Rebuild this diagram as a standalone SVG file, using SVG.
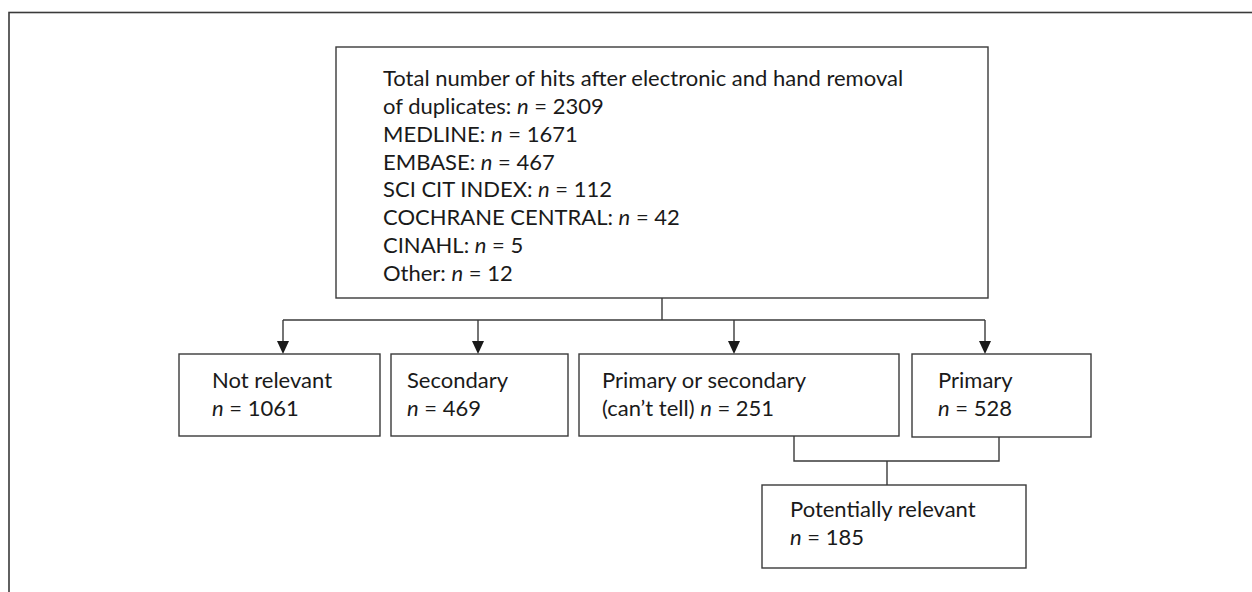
<svg xmlns="http://www.w3.org/2000/svg" width="1252" height="592" viewBox="0 0 1252 592">
  <defs>
    <style>
      .box { fill: #ffffff; stroke: #3a3a3a; stroke-width: 1.4; }
      .frame { fill: none; stroke: #3a3a3a; stroke-width: 1.6; }
      .conn { fill: none; stroke: #3a3a3a; stroke-width: 1.4; }
      text { font-family: Lato, "Open Sans", "Liberation Sans", sans-serif; font-size: 22px; fill: #1a1a1a; }
      .i { font-style: italic; }
    </style>
  </defs>
  <rect width="1252" height="592" fill="#ffffff"/>
  <rect class="frame" x="9" y="12.5" width="1300" height="700"/>

  <g id="connectors">
    <path class="conn" d="M662,298 V320"/>
    <path class="conn" d="M283,320 H985"/>
    <path class="conn" d="M283,320 V341"/>
    <path class="conn" d="M478,320 V341"/>
    <path class="conn" d="M734,320 V341"/>
    <path class="conn" d="M985,320 V341"/>
    <path d="M277,341 L289,341 L283,354 Z" fill="#1a1a1a"/>
    <path d="M472,341 L484,341 L478,354 Z" fill="#1a1a1a"/>
    <path d="M728,341 L740,341 L734,354 Z" fill="#1a1a1a"/>
    <path d="M979,341 L991,341 L985,354 Z" fill="#1a1a1a"/>
    <path class="conn" d="M794,436 V461 H999 V437"/>
    <path class="conn" d="M887,461 V485"/>
  </g>

  <g id="node-total">
    <rect class="box" x="336" y="47" width="652" height="251"/>
    <text x="383" y="86">Total number of hits after electronic and hand removal</text>
    <text x="383" y="114">of duplicates: <tspan class="i">n</tspan> = 2309</text>
    <text x="383" y="142">MEDLINE: <tspan class="i">n</tspan> = 1671</text>
    <text x="383" y="170">EMBASE: <tspan class="i">n</tspan> = 467</text>
    <text x="383" y="197">SCI CIT INDEX: <tspan class="i">n</tspan> = 112</text>
    <text x="383" y="225">COCHRANE CENTRAL: <tspan class="i">n</tspan> = 42</text>
    <text x="383" y="253">CINAHL: <tspan class="i">n</tspan> = 5</text>
    <text x="383" y="281">Other: <tspan class="i">n</tspan> = 12</text>
  </g>

  <g id="node-not-relevant">
    <rect class="box" x="179" y="354" width="201" height="82"/>
    <text x="212" y="388">Not relevant</text>
    <text x="212" y="416"><tspan class="i">n</tspan> = 1061</text>
  </g>

  <g id="node-secondary">
    <rect class="box" x="391" y="354" width="177" height="82"/>
    <text x="407" y="388">Secondary</text>
    <text x="407" y="416"><tspan class="i">n</tspan> = 469</text>
  </g>

  <g id="node-cant-tell">
    <rect class="box" x="579" y="354" width="320" height="82"/>
    <text x="602" y="388">Primary or secondary</text>
    <text x="602" y="416">(can’t tell) <tspan class="i">n</tspan> = 251</text>
  </g>

  <g id="node-primary">
    <rect class="box" x="912" y="354" width="179" height="83"/>
    <text x="938" y="388">Primary</text>
    <text x="938" y="416"><tspan class="i">n</tspan> = 528</text>
  </g>

  <g id="node-potentially-relevant">
    <rect class="box" x="762" y="485" width="264" height="83"/>
    <text x="790" y="517">Potentially relevant</text>
    <text x="790" y="545"><tspan class="i">n</tspan> = 185</text>
  </g>
</svg>
